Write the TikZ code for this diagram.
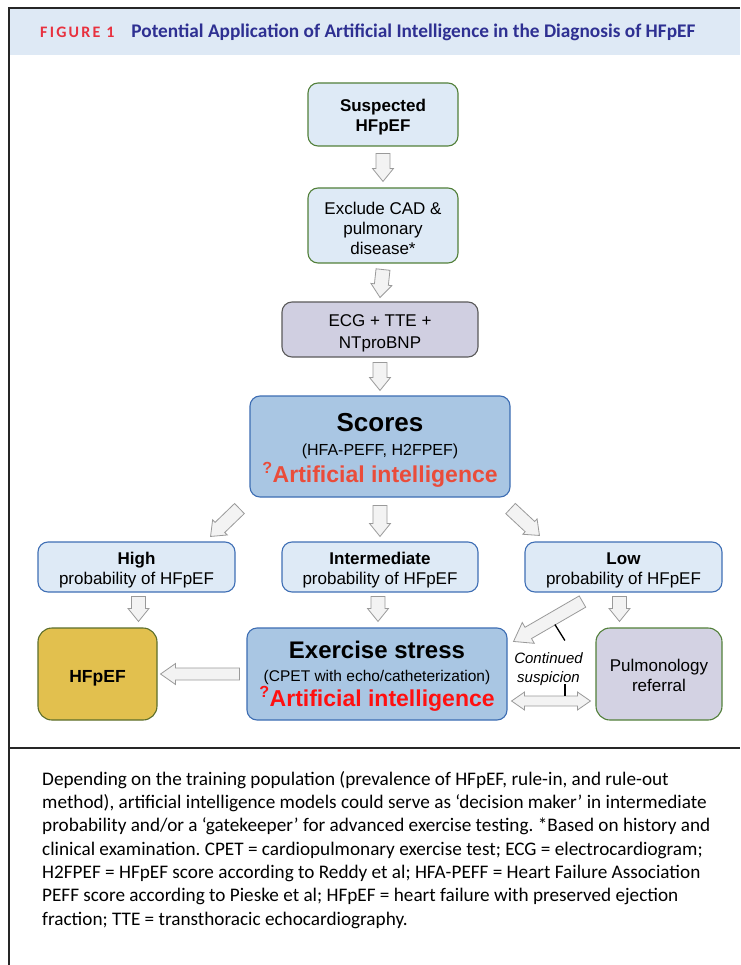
\documentclass[tikz,border=0pt]{standalone}
\usepackage{fontspec}
\setmainfont{Liberation Sans}
\newfontfamily\capfont{Carlito}
\newfontfamily\figfont[LetterSpace=14]{Carlito}
\usetikzlibrary{calc}
\definecolor{headerfill}{HTML}{DEE9F5}
\definecolor{figred}{HTML}{E8313F}
\definecolor{navy}{HTML}{2E3092}
\definecolor{lightfill}{HTML}{DEEAF6}
\definecolor{greenline}{HTML}{52803A}
\definecolor{blueline}{HTML}{3F6FB5}
\definecolor{ecgfill}{HTML}{D0CFE1}
\definecolor{grayline}{HTML}{5A5A5A}
\definecolor{bigfill}{HTML}{A9C6E3}
\definecolor{bigline}{HTML}{3D6DB3}
\definecolor{goldfill}{HTML}{E2C04E}
\definecolor{oliveline}{HTML}{5C6E2B}
\definecolor{pulfill}{HTML}{D3D2E3}
\definecolor{arrfill}{HTML}{F3F3F3}
\definecolor{arrline}{HTML}{9A9A9A}
\definecolor{aiorange}{HTML}{EA4C3A}
\definecolor{aired}{HTML}{FF1010}
\newcommand{\dn}[1]{\rule{0pt}{#1pt}}
\tikzset{
  boxbase/.style={draw, line width=1.1pt, rounded corners=10pt, align=center, inner sep=0pt, text=black},
  greenbox/.style={boxbase, fill=lightfill, draw=greenline},
  probbox/.style={boxbase, fill=lightfill, draw=blueline},
  ecgbox/.style={boxbase, fill=ecgfill, draw=grayline},
  bigbox/.style={boxbase, fill=bigfill, draw=bigline},
  goldbox/.style={boxbase, fill=goldfill, draw=oliveline, rounded corners=14pt},
  pulbox/.style={boxbase, fill=pulfill, draw=greenline, rounded corners=14pt},
  blockarr/.style={fill=arrfill, draw=arrline, line width=0.8pt, line join=miter},
  tickline/.style={draw=black, line width=1.3pt},
  txt/.style={font=\fontsize{17}{20}\selectfont}
}
\newcommand{\blockarrow}[5]{%
  \coordinate (bah) at ($(#2)!#5!(#1)$);
  \draw[blockarr] ($(#1)!#3!90:(#2)$) -- ($(bah)!#3!-90:(#1)$) -- ($(bah)!#4!-90:(#1)$) -- (#2) -- ($(bah)!#4!90:(#1)$) -- ($(bah)!#3!90:(#1)$) -- ($(#1)!#3!-90:(#2)$) -- cycle;}
\newcommand{\dblarrow}[5]{%
  \coordinate (dha) at ($(#1)!#5!(#2)$);
  \coordinate (dhb) at ($(#2)!#5!(#1)$);
  \draw[blockarr] (#1) -- ($(dha)!#4!90:(#2)$) -- ($(dha)!#3!90:(#2)$) -- ($(dhb)!#3!-90:(#1)$) -- ($(dhb)!#4!-90:(#1)$) -- (#2) -- ($(dhb)!#4!90:(#1)$) -- ($(dhb)!#3!90:(#1)$) -- ($(dha)!#3!-90:(#2)$) -- ($(dha)!#4!-90:(#2)$) -- cycle;}
\begin{document}
\frenchspacing
\begin{tikzpicture}[x=1pt,y=-1pt]
\useasboundingbox (0,0) rectangle (740,965);
\fill[white] (0,0) rectangle (740,965);
% header
\fill[headerfill] (10,9) rectangle (740,55);
\draw[line width=2pt, draw=black!85] (9,965) -- (9,8) -- (740,8);
\draw[line width=2pt, draw=black!85] (9,748) -- (740,748);
\node[anchor=west, inner sep=0pt] (title) at (40,32) {{\figfont\bfseries\fontsize{16}{18}\selectfont\color{figred}FIGURE 1}\hspace{17pt}{\capfont\bfseries\fontsize{19.3}{22}\selectfont\color{navy}Potential Application of Artificial Intelligence in the Diagnosis of HFpEF}};
% boxes
\node[greenbox, minimum width=150pt, minimum height=63pt, font=\bfseries\fontsize{17}{20}\selectfont] (sus) at (383,114.5) {\dn{18.5}Suspected\\HFpEF};
\node[greenbox, minimum width=150pt, minimum height=75pt, txt] (exc) at (383,225.5) {\dn{17.5}Exclude CAD \&\\pulmonary\\disease*};
\node[ecgbox, minimum width=196pt, minimum height=55pt, txt, font=\fontsize{17}{22}\selectfont] (ecg) at (380,329.5) {\dn{20.5}ECG + TTE +\\NTproBNP};
\node[bigbox, minimum width=260pt, minimum height=101pt, font=\fontsize{16}{24}\selectfont] (sco) at (380,446.5) {\dn{26}{\fontsize{26}{24}\selectfont\bfseries Scores}\\(HFA-PEFF, H2FPEF)\\[3pt]{\color{aiorange}\fontsize{23}{22}\selectfont\bfseries\textsuperscript{?}Artificial intelligence}};
\node[probbox, minimum width=197pt, minimum height=50pt, txt] (hig) at (136.5,567) {\dn{18.5}\textbf{High}\\probability of HFpEF};
\node[probbox, minimum width=196pt, minimum height=50pt, txt] (int) at (380,567) {\dn{18.5}\textbf{Intermediate}\\probability of HFpEF};
\node[probbox, minimum width=197pt, minimum height=50pt, txt] (low) at (623.5,567) {\dn{18.5}\textbf{Low}\\probability of HFpEF};
\node[goldbox, minimum width=119pt, minimum height=92pt, font=\bfseries\fontsize{17.5}{20}\selectfont] (hf) at (97.5,674) {\dn{20}HFpEF};
\node[bigbox, minimum width=260pt, minimum height=92pt, font=\fontsize{15.5}{23}\selectfont] (exs) at (377,674) {\dn{22}{\fontsize{24}{22}\selectfont\bfseries Exercise stress}\\(CPET with echo/catheterization)\\[0pt]{\color{aired}\fontsize{23}{22}\selectfont\bfseries\textsuperscript{?}Artificial intelligence}};
\node[pulbox, minimum width=126pt, minimum height=92pt, txt] (pul) at (659,674) {\dn{14.5}Pulmonology\\referral};
% arrows
\coordinate (a1s) at ($(sus.south)+(0,7)$);
\coordinate (a1e) at ($(exc.north)+(0,-6)$);
\blockarrow{a1s}{a1e}{7pt}{10.5pt}{13pt}
\coordinate (a2s) at ($(exc.south)+(0,6)$);
\coordinate (a2e) at ($(ecg.north)+(0,-4)$);
\blockarrow{a2s}{a2e}{7pt}{10.5pt}{13pt}
\coordinate (a3s) at ($(ecg.south)+(0,5)$);
\coordinate (a3e) at ($(sco.north)+(0,-5)$);
\blockarrow{a3s}{a3e}{7pt}{10.5pt}{13pt}
\coordinate (a4s) at ($(sco.south west)+(-10,11)$);
\coordinate (a4e) at ($(hig.north east)+(-25,-5)$);
\blockarrow{a4s}{a4e}{7pt}{10.5pt}{13pt}
\coordinate (a5s) at ($(sco.south)+(0,8)$);
\coordinate (a5e) at ($(int.north)+(0,-5)$);
\blockarrow{a5s}{a5e}{7pt}{10.5pt}{13pt}
\coordinate (a6s) at ($(sco.south east)+(0,11)$);
\coordinate (a6e) at ($(low.north west)+(15,-6)$);
\blockarrow{a6s}{a6e}{7pt}{10.5pt}{13pt}
\coordinate (a7s) at ($(hig.south)+(2,4)$);
\coordinate (a7e) at ($(hig.south |- hf.north)+(2,-6)$);
\blockarrow{a7s}{a7e}{7pt}{10.5pt}{13pt}
\coordinate (a8s) at ($(int.south)+(-2,4)$);
\coordinate (a8e) at ($(int.south |- exs.north)+(-2,-6)$);
\blockarrow{a8s}{a8e}{7pt}{10.5pt}{13pt}
\coordinate (a9s) at ($(low.south)+(-4,4)$);
\coordinate (a9e) at ($(low.south |- pul.north)+(-4,-6)$);
\blockarrow{a9s}{a9e}{7pt}{10.5pt}{13pt}
\coordinate (a10s) at ($(exs.west)+(-7,0)$);
\coordinate (a10e) at ($(hf.east)+(3,0)$);
\blockarrow{a10s}{a10e}{6pt}{10.5pt}{15pt}
\coordinate (a11s) at ($(low.south west)+(58,9)$);
\coordinate (a11e) at ($(exs.north east)+(6,14)$);
\blockarrow{a11s}{a11e}{6.5pt}{12pt}{17pt}
\coordinate (d1) at ($(exs.east)+(4,27)$);
\coordinate (d2) at ($(pul.west)+(-5,27)$);
\dblarrow{d1}{d2}{5pt}{9pt}{13pt}
% continued suspicion
\node[font=\itshape\fontsize{15}{19}\selectfont, align=center, inner sep=0pt] (cs) at (548.5,669) {Continued\\suspicion};
\coordinate (t1a) at ($(a11s)!0.4!(a11e)+(0,7)$);
\coordinate (t1b) at ($(t1a)+(10,16)$);
\draw[tickline] (t1a) -- (t1b);
\coordinate (t2a) at (565,684);
\coordinate (t2b) at ($(t2a |- d1)+(0,-5)$);
\draw[tickline] (t2a) -- (t2b);
% caption
\node[anchor=north west, align=left, inner sep=0pt, font=\capfont\fontsize{19.2}{23.3}\selectfont] (cap) at (42,771) {Depending on the training population (prevalence of HFpEF, rule-in, and rule-out\\
method), artificial intelligence models could serve as ‘decision maker’ in intermediate\\
probability and/or a ‘gatekeeper’ for advanced exercise testing. *Based on history and\\
clinical examination. CPET = cardiopulmonary exercise test; ECG = electrocardiogram;\\
H2FPEF = HFpEF score according to Reddy et al; HFA-PEFF = Heart Failure Association\\
PEFF score according to Pieske et al; HFpEF = heart failure with preserved ejection\\
fraction; TTE = transthoracic echocardiography.};
\end{tikzpicture}
\end{document}
